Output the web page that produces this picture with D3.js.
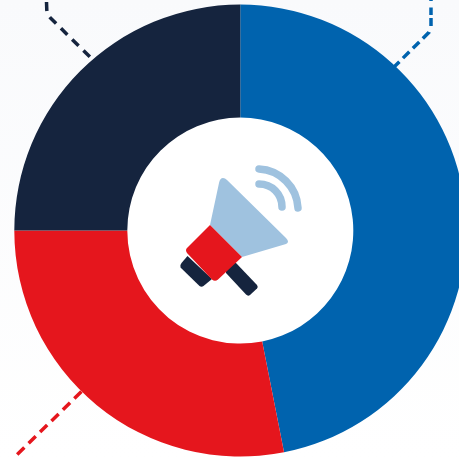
<!DOCTYPE html>
<html lang="en">
<head>
<meta charset="UTF-8">
<title>Donut</title>
<style>
  html, body { margin: 0; padding: 0; background: #fff; overflow: hidden; }
  svg { display: block; }
</style>
</head>
<body>
<svg width="459" height="458"></svg>
<script src="https://d3js.org/d3.v7.min.js"></script>
<script>
const categories = ["Blue", "Red", "Navy"];
const values = [46.9, 28.1, 25];
const colors = ["#0063ae", "#e5161d", "#15243e"];

const svg = d3.select("svg");

// faint background wash, top to bottom
const defs = svg.append("defs");
const grad = defs.append("linearGradient").attr("id", "bg").attr("x1", 0).attr("y1", 0).attr("x2", 0).attr("y2", 1);
grad.append("stop").attr("offset", "0%").attr("stop-color", "#f9fafc");
grad.append("stop").attr("offset", "100%").attr("stop-color", "#ffffff");
svg.append("rect").attr("width", 459).attr("height", 458).attr("fill", "url(#bg)");

// dashed leader lines
const leaders = [
  { color: colors[2], dash: "9 6.8", d: "M46.5,2 L46.8,10 Q47.5,15 51,18.5 L92,59" },
  { color: colors[0], dash: "1 6.5 7.5 3 8 6.3 9 5 9 5 9 5 9 5 9 5", d: "M431,0 L431,26 L429,32.3 L394,67" },
  { color: colors[1], dash: "10 6", d: "M17.2,454.5 L84,389" }
];
svg.selectAll(".leader").data(leaders).enter().append("path")
  .attr("class", "leader")
  .attr("d", d => d.d)
  .attr("fill", "none")
  .attr("stroke", d => d.color)
  .attr("stroke-width", 3.5)
  .attr("stroke-dasharray", d => d.dash);

// donut
const pie = d3.pie().sort(null).value(d => d);
const arc = d3.arc().innerRadius(113).outerRadius(226);
const g = svg.append("g").attr("transform", "translate(240.3,230.6)");
g.append("circle").attr("r", 114).attr("fill", "#fff");
g.selectAll("path").data(pie(values)).enter().append("path")
  .attr("d", arc)
  .attr("fill", (d, i) => colors[i]);

// megaphone icon
const icon = svg.append("g");
icon.append("path")
  .attr("d", "M181.5,263 L187.5,256 L212,279 L203.5,286 Q201.5,287.5 199.5,286 L180.5,267.5 Q179.5,265.5 181.5,263 Z")
  .attr("fill", colors[2]);
icon.append("path")
  .attr("d", "M226,263 L236,263 L257,285 Q258.5,287 257,288.5 L250,295 Q248,296.5 246,294.5 L226,273 Z")
  .attr("fill", colors[2]);
icon.append("path")
  .attr("d", "M210,225 L219,183 Q220,178 223,178 Q225,178 227,180 L286,238 Q290,242 286,244 L242,257 Z")
  .attr("fill", "#9fc2df");
icon.append("path")
  .attr("d", "M210,225 L242,257 L218,279.5 Q215,282 212,279.5 L187,253 Q185,250 187,248 Z")
  .attr("fill", colors[1]);
icon.selectAll(".wave").data([
  "M259,169 C280,170 297,187 298,208",
  "M259,184 C272,184 282,194 282,207"
]).enter().append("path")
  .attr("class", "wave")
  .attr("d", d => d)
  .attr("fill", "none")
  .attr("stroke", "#9fc2df")
  .attr("stroke-width", 7.5)
  .attr("stroke-linecap", "round");
</script>
</body>
</html>
